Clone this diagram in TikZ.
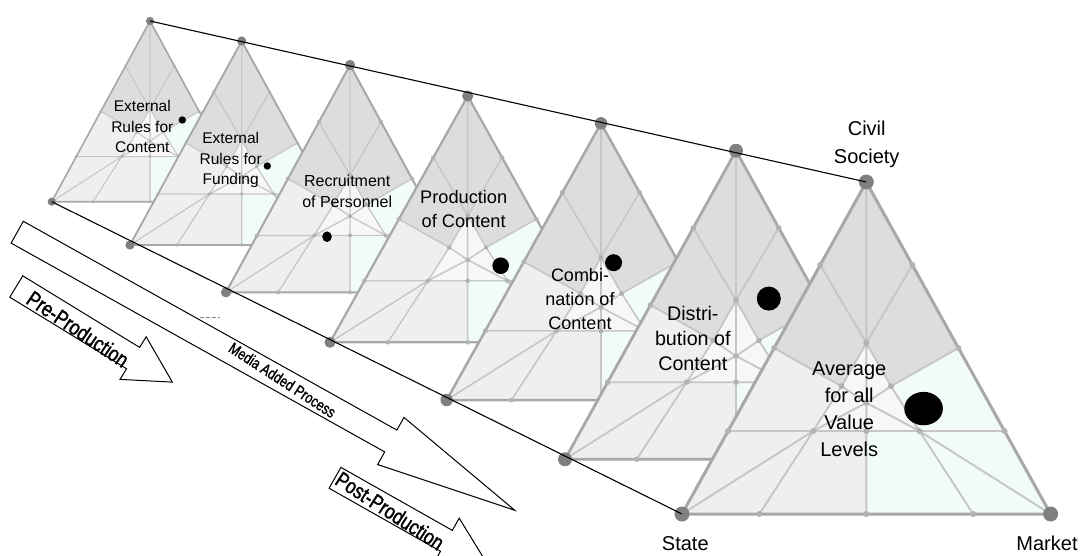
\documentclass[tikz,border=0pt]{standalone}
\usepackage{fontspec}
\setmainfont{Liberation Sans}
\newfontfamily\narrowfont[FakeStretch=0.8,FakeBold=1.3]{Liberation Sans}
\definecolor{triDark}{HTML}{DDDDDD}
\definecolor{triLight}{HTML}{EFEFEF}
\definecolor{triMint}{HTML}{F2FCF6}
\definecolor{triCore}{HTML}{F8F7F5}
\definecolor{triEdge}{HTML}{A8A8A8}
\definecolor{triGrid}{HTML}{C6C6C6}
\definecolor{triVertex}{HTML}{808080}
\definecolor{triKnot}{HTML}{B2B2B2}
\tikzset{
  envelope/.style={black,line width=0.55pt},
  blockarrow/.style={draw=black,fill=white,line width=0.5pt,line join=miter},
  arrowtext/.style={inner sep=0pt,text=black},
  scorepoint/.style={fill=black},
  lbl/.style={align=center,inner sep=0pt,text=black},
}
% ternary panel: #1 prefix, #2/#3 lower-left corner, #4/#5 apex, #6 size factor
\newcommand\ternary[6]{%
  \pgfmathsetmacro\tsc{#6}%
  \begin{scope}[shift={(#2,#3)},xscale={2*((#4)-(#2))},yscale={-((#3)-(#5))}]
    \coordinate (#1A) at (0.5,1);
    \coordinate (#1B) at (0,0);
    \coordinate (#1C) at (1,0);
    \coordinate (#1L1) at (0.125,0.25);
    \coordinate (#1L2) at (0.25,0.5);
    \coordinate (#1L3) at (0.375,0.75);
    \coordinate (#1R1) at (0.875,0.25);
    \coordinate (#1R2) at (0.75,0.5);
    \coordinate (#1R3) at (0.625,0.75);
    \coordinate (#1Bl) at (0.21,0);
    \coordinate (#1Bm) at (0.5,0);
    \coordinate (#1Br) at (0.79,0);
    \coordinate (#1M) at (0.5,0.515);
    \coordinate (#1P) at (0.433,0.385);
    \coordinate (#1Q) at (0.567,0.385);
    \coordinate (#1G) at (0.5,0.335);
    \coordinate (#1H1) at (0.356,0.25);
    \coordinate (#1H2) at (0.5,0.25);
    \coordinate (#1H3) at (0.644,0.25);
  \end{scope}
  \fill[triDark] (#1A) -- (#1L2) -- (#1P) -- (#1M) -- (#1Q) -- (#1R2) -- cycle;
  \fill[triLight] (#1L2) -- (#1B) -- (#1Bm) -- (#1H2) -- (#1H1) -- (#1P) -- cycle;
  \fill[triMint] (#1R2) -- (#1C) -- (#1Bm) -- (#1H2) -- (#1H3) -- (#1Q) -- cycle;
  \fill[triCore] (#1M) -- (#1P) -- (#1H1) -- (#1H3) -- (#1Q) -- cycle;
  \draw[triGrid,line width={0.95pt*\tsc},line join=round]
    (#1A) -- (#1Bm)
    (#1L1) -- (#1R1)
    (#1L3) -- (#1M) -- (#1Q) -- (#1H3) -- (#1Br)
    (#1R3) -- (#1M) -- (#1P) -- (#1H1) -- (#1Bl)
    (#1L2) -- (#1P) -- (#1G) -- (#1Q) -- (#1R2)
    (#1B) -- (#1H1) -- (#1G) -- (#1H3) -- (#1C);
  \draw[triEdge,line width={1.5pt*\tsc},line join=round] (#1A) -- (#1B) -- (#1C) -- cycle;
  \foreach \k in {L1,L2,L3,R1,R2,R3,Bl,Bm,Br,M,P,Q,G,H1,H2,H3}
    \fill[triKnot] (#1\k) circle[radius=3*\tsc];
  \foreach \k in {A,B,C}
    \fill[triVertex] (#1\k) circle[radius=7.5*\tsc];
}
% block arrow: #1 tail centre, #2 angle below horizontal, #3 length, #4 shaft half width, #5 head half width, #6 head length
\newcommand\blockarr[6]{%
  \begin{scope}[shift={#1},rotate={-(#2)}]
    \draw[blockarrow] (0,-#4) -- ({#3-#6},-#4) -- ({#3-#6},-#5) -- (#3,0)
      -- ({#3-#6},#5) -- ({#3-#6},#4) -- (0,#4) -- cycle;
  \end{scope}}
\begin{document}
\begin{tikzpicture}[x=0.5pt,y=-0.5pt]
\useasboundingbox (0,0) rectangle (1083,556);
\clip (0,0) rectangle (1083,556);

% value-chain arrows
\blockarr{(17.2,232.2)}{29.2}{570}{12.5}{27}{142}
\blockarr{(16.3,286.5)}{31.5}{183}{12.5}{25}{46}
\blockarr{(335,477.8)}{29.5}{175}{12}{26}{47}
\node[arrowtext,rotate=-33,font=\narrowfont\fontsize{7.9}{9}\selectfont] (mediaproc) at (282.5,380) {Media Added Process};
\node[arrowtext,rotate=-34,font=\narrowfont\fontsize{11}{13}\selectfont] (preprod) at (78,329) {Pre-Production};
\node[arrowtext,rotate=-33,font=\narrowfont\fontsize{10.9}{13}\selectfont] (postprod) at (390,510.8) {Post-Production};
\draw[gray,line width=0.3pt,dash pattern=on 2pt off 1pt] (200,317.3) -- (220,317.3);

% panels, back to front
\ternary{t1}{51.7}{201.7}{150}{21}{0.544}
\fill[scorepoint] (182.3,120) circle[radius=3.7];
\node[lbl,font=\fontsize{7.75}{10.25}\selectfont] (lab1) at (142.3,126.5) {External\\Rules for\\Content};

\ternary{t2}{130}{245}{241.7}{41}{0.614}
\fill[scorepoint] (267.3,166) circle[radius=3.7];
\begin{scope}
  \clip (180,120) rectangle (300,186.5);
  \node[lbl,font=\fontsize{7.75}{10.25}\selectfont] (lab2) at (230.7,160) {External\\Rules for\\Funding};
\end{scope}

\ternary{t3}{226}{292.3}{350}{65}{0.685}
\fill[scorepoint] (327,236.7) ellipse[x radius=4.8,y radius=5.3];
\node[lbl,font=\fontsize{8}{10.5}\selectfont] (lab3) at (347.2,191.2) {Recruitment\\of Personnel};

\ternary{t4}{330}{342.3}{467.7}{96}{0.742}
\fill[scorepoint] (500.7,265.7) circle[radius=8.3];
\node[lbl,font=\fontsize{9.1}{11.7}\selectfont] (lab4) at (463.7,209) {Production\\of Content};

\ternary{t5}{446.7}{400}{601}{123.3}{0.833}
\fill[scorepoint] (613.6,262.7) circle[radius=8.5];
\node[lbl,font=\fontsize{9}{12}\selectfont] (lab5) at (580,299) {Combi-\\nation of\\Content};

\ternary{t6}{565}{459.3}{736}{150.7}{0.93}
\fill[scorepoint] (768.8,298.6) circle[radius=12];
\node[lbl,font=\fontsize{9.85}{12.65}\selectfont] (lab6) at (692.8,338.5) {Distri-\\bution of\\Content};

\ternary{t7}{682}{514}{866.3}{182}{1}
\fill[scorepoint] (923.6,408.6) ellipse[x radius=19.3,y radius=16.7];
\node[lbl,font=\fontsize{10}{13.65}\selectfont] (lab7) at (849.2,409.2) {Average\\for all\\Value\\Levels};

% corner captions
\node[lbl,font=\fontsize{10}{14}\selectfont] (civil) at (866.7,144.5) {Civil\\Society};
\node[lbl,font=\fontsize{10}{12}\selectfont] (state) at (685.3,543.3) {State};
\node[lbl,font=\fontsize{10}{12}\selectfont] (market) at (1047,543.3) {Market};

% envelope through the panel corners
\draw[envelope] (t1A) -- (t7A);
\draw[envelope] (t1B) -- (t7B);
\end{tikzpicture}
\end{document}
